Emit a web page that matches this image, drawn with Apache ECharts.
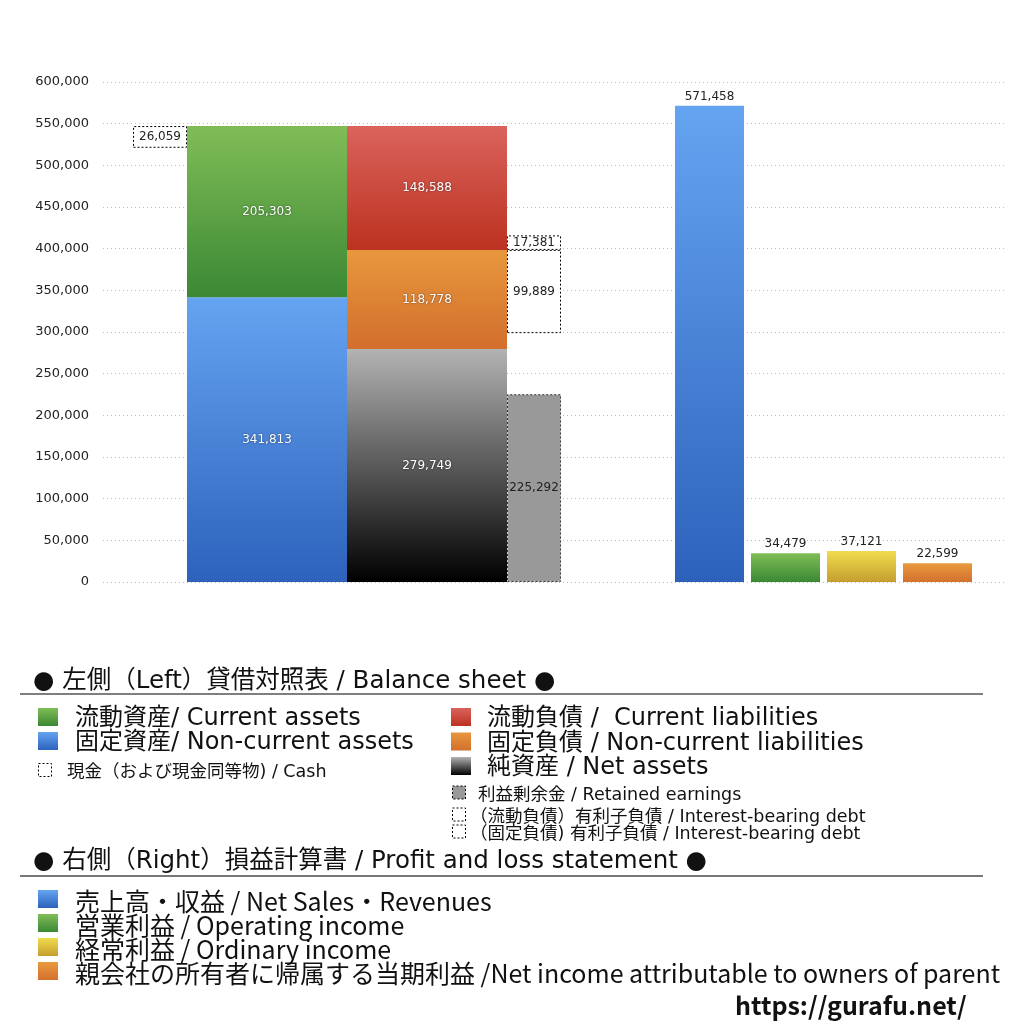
<!DOCTYPE html>
<html>
<head>
<meta charset="utf-8">
<script src="https://cdn.jsdelivr.net/npm/echarts@6/dist/echarts.min.js"></script>
<style>
  html, body { margin: 0; padding: 0; background: #fff; }
  #main { width: 1024px; height: 1024px; }
</style>
</head>
<body>
<div id="main"></div>
<script>
// 貸借対照表 (left)
var bsCategory = ['貸借対照表'];
var cash = 26059;
var nonCurrentAssets = 341813;
var currentAssets = 205303;
var netAssets = 279749;
var nonCurrentLiab = 118778;
var currentLiab = 148588;
var retainedEarnings = 225292;
var debtNonCurrent = 99889;
var debtCurrent = 17381;

// 損益計算書 (right)
var plCategories = ['売上高', '営業利益', '経常利益', '当期利益'];
var plValues = [571458, 34479, 37121, 22599];

var yTicks = { min: 0, max: 600000, interval: 50000 };

var FONT = '"DejaVu Sans", "Noto Sans CJK JP", sans-serif';
var FONT_NARROW = '"Noto Sans CJK JP", "Noto Sans", sans-serif';

function grad(top, bottom) {
  return new echarts.graphic.LinearGradient(0, 0, 0, 1, [
    { offset: 0, color: top }, { offset: 1, color: bottom }
  ]);
}
var C = {
  green: ['#80bd57', '#3b8834'],
  blue: ['#65a4f1', '#2d62bc'],
  red: ['#da635c', '#bc3220'],
  orange: ['#e8973d', '#d26f2c'],
  black: ['#b3b3b3', '#000000'],
  yellow: ['#f0dc4e', '#c49e2e'],
  orange2: ['#e99a3f', '#d3702d']
};
var plColors = [C.blue, C.green, C.yellow, C.orange2];

var totalAssets = nonCurrentAssets + currentAssets;
var dash = [2, 2];

function fmt(p) { return p.value.toLocaleString('en-US'); }
var whiteLabel = {
  show: true, position: 'inside', color: '#fff', fontSize: 12, fontFamily: FONT,
  textShadowColor: 'rgba(0,0,0,0.6)', textShadowBlur: 2, formatter: fmt
};
var darkLabel = {
  show: true, position: 'inside', color: '#222', fontSize: 12, fontFamily: FONT, formatter: fmt
};
var hidden = { color: 'transparent' };

function bsBar(name, stack, width, value, itemStyle, label) {
  return {
    name: name, type: 'bar', xAxisIndex: 1, yAxisIndex: 1, stack: stack,
    barWidth: width, barGap: '0%', data: [value], itemStyle: itemStyle,
    label: label || { show: false }, silent: !label
  };
}

var series = [
  // 現金
  bsBar('cash-gap', 'cash', 54, totalAssets - cash, hidden),
  bsBar('現金', 'cash', 54, cash, { color: '#fff', borderColor: '#000', borderWidth: 1, borderType: dash }, darkLabel),
  // 資産
  bsBar('固定資産', 'assets', 160, nonCurrentAssets, { color: grad(C.blue[0], C.blue[1]) }, whiteLabel),
  bsBar('流動資産', 'assets', 160, currentAssets, { color: grad(C.green[0], C.green[1]) }, whiteLabel),
  // 負債・純資産
  bsBar('純資産', 'liab', 160, netAssets, { color: grad(C.black[0], C.black[1]) }, whiteLabel),
  bsBar('固定負債', 'liab', 160, nonCurrentLiab, { color: grad(C.orange[0], C.orange[1]) }, whiteLabel),
  bsBar('流動負債', 'liab', 160, currentLiab, { color: grad(C.red[0], C.red[1]) }, whiteLabel),
  // 利益剰余金・有利子負債
  bsBar('利益剰余金', 'extra', 54, retainedEarnings, { color: '#999', borderColor: '#333', borderWidth: 1, borderType: dash }, darkLabel),
  bsBar('extra-gap', 'extra', 54, netAssets + nonCurrentLiab - debtNonCurrent - retainedEarnings, hidden),
  bsBar('固定有利子負債', 'extra', 54, debtNonCurrent, { color: '#fff', borderColor: '#000', borderWidth: 1, borderType: dash }, darkLabel),
  bsBar('流動有利子負債', 'extra', 54, debtCurrent, { color: '#fff', borderColor: '#000', borderWidth: 1, borderType: dash }, darkLabel),
  // 損益計算書
  {
    name: '損益', type: 'bar', xAxisIndex: 2, yAxisIndex: 2, barWidth: 69,
    data: plValues.map(function (v, i) {
      return { value: v, itemStyle: { color: grad(plColors[i][0], plColors[i][1]) } };
    }),
    label: {
      show: true, position: 'top', distance: 3, color: '#222', fontSize: 12, fontFamily: FONT, formatter: fmt
    }
  }
];

// legend texts
var bsTitle = '● 左側（Left）貸借対照表 / Balance sheet ●';
var plTitle = '● 右側（Right）損益計算書 / Profit and loss statement ●';
var bsLegendLeft = ['流動資産/ Current assets', '固定資産/ Non-current assets'];
var bsLegendRight = ['流動負債 /  Current liabilities', '固定負債 / Non-current liabilities', '純資産 / Net assets'];
var cashLegend = '現金（および現金同等物) / Cash';
var smallLegend = ['利益剰余金 / Retained earnings', '（流動負債）有利子負債 / Interest-bearing debt', '（固定負債) 有利子負債 / Interest-bearing debt'];
var plLegend = ['売上高・収益 / Net Sales・Revenues', '営業利益 / Operating income', '経常利益 / Ordinary income', '親会社の所有者に帰属する当期利益 /Net income attributable to owners of parent'];
var siteUrl = 'https://gurafu.net/';

function txt(x, y, s, font) {
  return { type: 'text', style: { text: s, x: x, y: y + 2, fill: '#111', font: font, textVerticalAlign: 'middle' } };
}
function box(x, y, w, h, fill, dashed) {
  return {
    type: 'rect', shape: { x: x, y: y, width: w, height: h },
    style: dashed
      ? { fill: fill || '#fff', stroke: '#000', lineWidth: 1, lineDash: [2, 2] }
      : { fill: fill }
  };
}

var g = [];
g.push(txt(33, 680, bsTitle, '24.5px ' + FONT));
g.push({ type: 'line', shape: { x1: 20, y1: 694, x2: 983, y2: 694 }, style: { stroke: '#000', lineWidth: 1.2 } });
var leftIcons = [C.green, C.blue];
bsLegendLeft.forEach(function (s, i) {
  var y = 717 + i * 24;
  g.push(box(38, y - 9, 20, 18, grad(leftIcons[i][0], leftIcons[i][1])));
  g.push(txt(75, y, s, '24px ' + FONT));
});
g.push(box(38.5, 763.5, 13, 13, '#fff', true));
g.push(txt(67, 770, cashLegend, '17.5px ' + FONT));
var rightIcons = [C.red, C.orange, C.black];
bsLegendRight.forEach(function (s, i) {
  var y = 717 + i * 24.5;
  g.push(box(451, y - 9, 20, 18, grad(rightIcons[i][0], rightIcons[i][1])));
  g.push(txt(487, y, s, '24px ' + FONT));
});
var smallY = [793, 815, 832];
smallLegend.forEach(function (s, i) {
  g.push(box(452.5, smallY[i] - 7, 13, 13, i === 0 ? '#999' : '#fff', true));
  g.push(txt(i === 0 ? 478 : 470, smallY[i], s, '17.5px ' + FONT));
});
g.push(txt(33, 860, plTitle, '24.5px ' + FONT));
g.push({ type: 'line', shape: { x1: 20, y1: 876, x2: 983, y2: 876 }, style: { stroke: '#777', lineWidth: 2 } });
plLegend.forEach(function (s, i) {
  var y = 899 + i * 24;
  g.push(box(38, y - 9, 20, 18, grad(plColors[i][0], plColors[i][1])));
  g.push(txt(75, y, s, '25px ' + FONT_NARROW));
});
g.push(txt(735, 1003, siteUrl, 'bold 25px ' + FONT_NARROW));

var chart = echarts.init(document.getElementById('main'));
chart.setOption({
  backgroundColor: '#fff',
  animation: false,
  grid: [
    { left: 103, right: 19, top: 82, height: 500 },
    { left: 103, width: 488, top: 82, height: 500 },
    { left: 671.5, width: 304, top: 82, height: 500 }
  ],
  xAxis: [
    { gridIndex: 0, type: 'value', min: 0, max: 1, show: false },
    { gridIndex: 1, type: 'category', data: bsCategory, show: false },
    { gridIndex: 2, type: 'category', data: plCategories, show: false }
  ],
  yAxis: [
    {
      gridIndex: 0, type: 'value', min: yTicks.min, max: yTicks.max, interval: yTicks.interval,
      axisLine: { show: false }, axisTick: { show: false },
      axisLabel: {
        color: '#222', fontSize: 13, fontFamily: FONT, margin: 14,
        formatter: function (v) { return v.toLocaleString('en-US'); }
      },
      splitLine: { lineStyle: { color: '#bbb', type: [1, 3] } }
    },
    { gridIndex: 1, type: 'value', min: yTicks.min, max: yTicks.max, show: false },
    { gridIndex: 2, type: 'value', min: yTicks.min, max: yTicks.max, show: false }
  ],
  series: series,
  graphic: g
});
</script>
</body>
</html>
